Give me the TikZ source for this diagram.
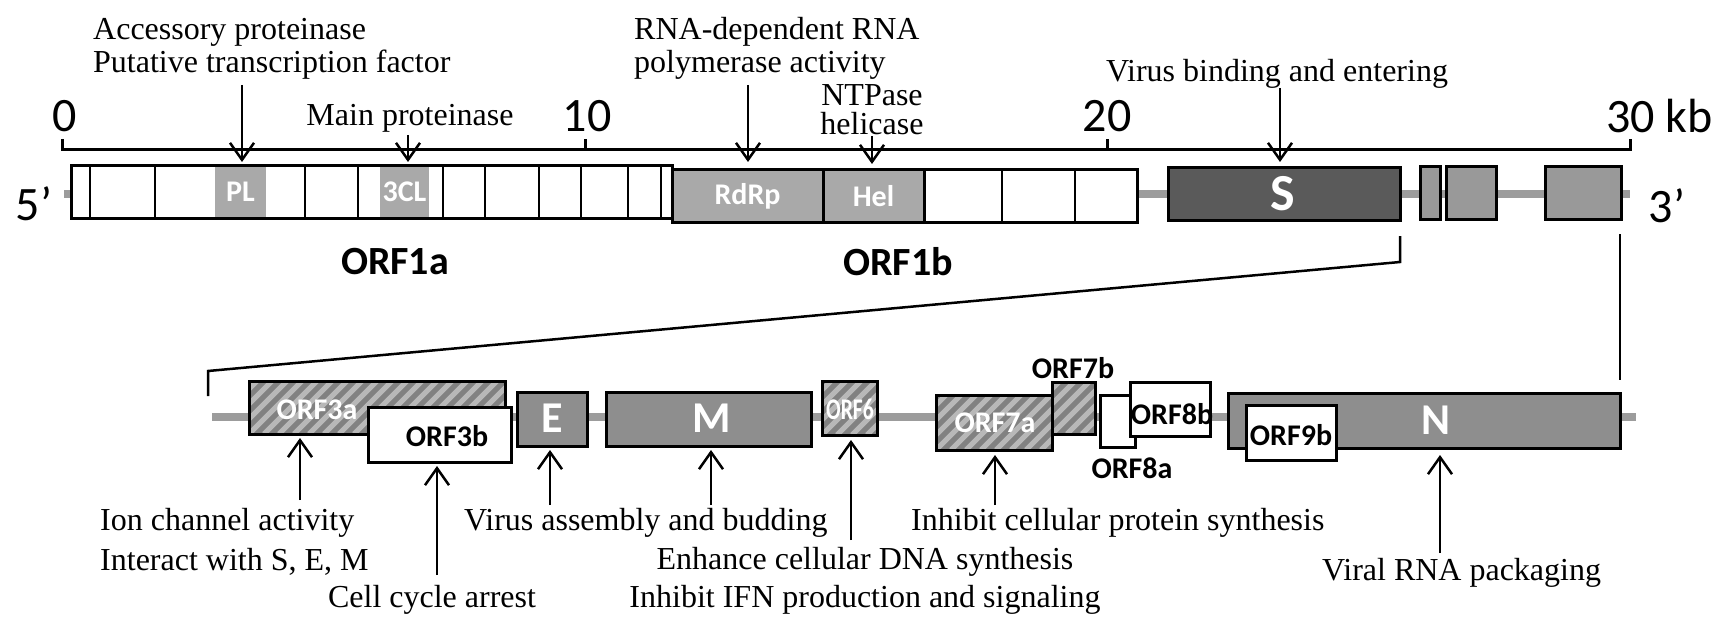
\documentclass[tikz,border=0pt]{standalone}
\usepackage{fontspec}
\setmainfont{Liberation Serif}
\newfontfamily\calfont{Carlito}
\usetikzlibrary{arrows.meta}
\definecolor{lineg}{HTML}{9C9C9C}
\definecolor{plgray}{HTML}{A9A9A9}
\definecolor{sgray}{HTML}{5A5A5A}
\definecolor{smgray}{HTML}{999999}
\definecolor{mgray}{HTML}{8E8E8E}
\definecolor{hgray}{HTML}{818181}
\definecolor{hstripe}{HTML}{B8B8B8}
\newcommand\mybox[6][]{\node[bx,#1,minimum width={#5-#3},minimum height={#6-#4}] (#2) at (#3,#4) {};}
\begin{document}
\begin{tikzpicture}[x=1pt,y=-1pt,
  bx/.style={draw=black,line width=3pt,inner sep=0pt,outer sep=0pt,anchor=north west},
  plain/.style={inner sep=0pt,outer sep=0pt,anchor=north west},
  tx/.style={font=\fontsize{32}{36}\selectfont,inner sep=0pt},
  cal/.style={font=\calfont\fontsize{#1}{#1}\selectfont,inner sep=0pt},
  calb/.style={font=\calfont\bfseries\fontsize{#1}{#1}\selectfont,inner sep=0pt},
  wlab/.style={calb=#1,text=white},
  arr/.style={line width=2.5pt,-{Straight Barb[length=17pt,width=24pt]}},
  axisl/.style={line width=3pt},
  bline/.style={line width=2.5pt},
  genome/.style={draw=lineg,line width=8pt},
  hatch/.style={fill=hgray,path picture={\foreach \k in {-4,...,22}{\draw[line width=5pt,draw=hstripe] ([xshift={\k*15pt}]path picture bounding box.south west) -- ++(80,-80);}}}
]
\useasboundingbox (0,0) rectangle (1734,631);

% ---------- top scale ----------
\coordinate (t0a) at (62,139); \coordinate (t0) at (62,150);
\coordinate (t30) at (1630,150); \coordinate (t30a) at (1630,139);
\coordinate (t10) at (585,150); \coordinate (t10a) at (585,139);
\coordinate (t20) at (1107,150); \coordinate (t20a) at (1107,139);
\draw[axisl] (t0a) -- (t0) -- (t30) -- (t30a);
\draw[axisl] (t10) -- (t10a);
\draw[axisl] (t20) -- (t20a);
\node[cal=48] (n0) at (65,116) {0};
\node[cal=48] (n10) at (587,116) {10};
\node[cal=48] (n20) at (1107,116) {20};
\node[cal=48,anchor=west] (n30) at (1606,116) {30 kb};

% ---------- genome line (top) ----------
\coordinate (g1) at (64,194); \coordinate (g2) at (1630,194);
\draw[genome] (g1) -- (g2);
\node[cal=48] (five) at (34,204) {5’};
\node[cal=48] (three) at (1667,206) {3’};

% ---------- ORF1a ----------
\mybox[fill=white]{orf1a}{71}{166}{672}{218}
\node[plain,fill=plgray,minimum width=51,minimum height=49] (pl) at (215,167.5) {};
\node[plain,fill=plgray,minimum width=49,minimum height=49] (cl) at (380,167.5) {};
\node[wlab=30] at (pl.center) {PL};
\node[wlab=30] at (cl.center) {3CL};
\foreach \xx in {90,155,305,358,443,485,539,581,628,661}
  \draw[bline] (\xx,166) -- (\xx,218);
\draw[line width=3pt] (orf1a.north west) rectangle (orf1a.south east);

% ---------- ORF1b ----------
\mybox[fill=white]{orf1b}{672}{170}{1137}{222}
\mybox[fill=plgray]{rdrp}{672}{170}{823}{222}
\mybox[fill=plgray]{hel}{823}{170}{924}{222}
\foreach \xx in {1002,1075}
  \draw[bline] (\xx,170) -- (\xx,222);
\node[wlab=30] at (rdrp.center) {RdRp};
\node[wlab=30] at (hel.center) {Hel};

% ---------- structural genes (top) ----------
\mybox[fill=sgray]{sbox}{1168}{168}{1400}{220}
\node[wlab=52] at (1283,194) {S};
\mybox[fill=smgray]{s1}{1420}{167}{1440}{219}
\mybox[fill=smgray]{s2}{1446}{167}{1496}{219}
\mybox[fill=smgray]{s3}{1545}{167}{1621}{219}

\node[calb=40] (orf1alab) at (395,262) {ORF1a};
\node[calb=40] (orf1blab) at (898,262) {ORF1b};

% ---------- top annotations ----------
\node[tx,anchor=west] (acc) at (93,32) {Accessory proteinase};
\node[tx,anchor=west] (put) at (93,65) {Putative transcription factor};
\node[tx,anchor=west] (rna1) at (634,32) {RNA-dependent RNA};
\node[tx,anchor=west] (rna2) at (634,65) {polymerase activity};
\node[tx] (ntp1) at (872,95) {NTPase};
\node[tx] (ntp2) at (872,124) {helicase};
\node[tx] (mainp) at (410,118) {Main proteinase};
\node[tx] (vbind) at (1277,74) {Virus binding and entering};

\coordinate (aPL) at (242,85);  \coordinate (aPLt) at (242,162);
\coordinate (a3C) at (408,135); \coordinate (a3Ct) at (408,162);
\coordinate (aRd) at (748,85);  \coordinate (aRdt) at (748,162);
\coordinate (aHe) at (872,136); \coordinate (aHet) at (872,164);
\coordinate (aS) at (1280,88);  \coordinate (aSt) at (1280,162);
\draw[arr] (aPL) -- (aPLt);
\draw[arr] (a3C) -- (a3Ct);
\draw[arr] (aRd) -- (aRdt);
\draw[arr] (aHe) -- (aHet);
\draw[arr] (aS) -- (aSt);

% ---------- zoom brackets ----------
\coordinate (bl1) at (208,396); \coordinate (bl2) at (208,371);
\coordinate (bl3) at (1400,262); \coordinate (bl4) at (1400,236);
\draw[bline] (bl1) -- (bl2) -- (bl3) -- (bl4);
\coordinate (br1) at (1620,234); \coordinate (br2) at (1620,380);
\draw[bline] (br1) -- (br2);

% ---------- bottom genome line ----------
\coordinate (h1) at (212,417); \coordinate (h2) at (1636,417);
\draw[genome] (h1) -- (h2);

% ---------- bottom ORFs ----------
\mybox[hatch]{orf3a}{249}{381}{505}{434}
\node[wlab=30] at (317,410) {ORF3a};
\mybox[fill=white]{orf3b}{368}{407}{511}{462}
\node[calb=30] at (447,436) {ORF3b};
\mybox[fill=mgray]{ebox}{517}{392}{587}{446}
\node[wlab=44] at (552,418) {E};
\mybox[fill=mgray]{mbox}{606}{392}{811}{446}
\node[wlab=44] at (712,418) {M};
\mybox[hatch]{orf6}{822}{381}{877}{435}
\node[wlab=30] at (850,409) {\scalebox{0.72}[1]{ORF6}};
\mybox[hatch]{orf7a}{936}{395}{1052}{450}
\node[wlab=30] at (995,423) {ORF7a};
\mybox[hatch]{orf7b}{1052}{382}{1095}{434}
\node[calb=30] at (1073,368) {ORF7b};
\mybox[fill=white]{orf8a}{1100}{395}{1135}{447}
\node[calb=30] at (1132,468) {ORF8a};
\mybox[fill=white]{orf8b}{1130}{382}{1210}{436}
\node[calb=30] at (1172,414) {ORF8b};
\mybox[fill=mgray]{nbox}{1228}{393}{1620}{448}
\node[wlab=44] at (1436,420) {N};
\mybox[fill=white]{orf9b}{1246}{405}{1336}{460}
\node[calb=30] at (1291,435) {ORF9b};

% ---------- bottom annotations ----------
\node[tx,anchor=west] (ion) at (100,523) {Ion channel activity};
\node[tx,anchor=west] (inter) at (100,562) {Interact with S, E, M};
\node[tx] (cell) at (432,600) {Cell cycle arrest};
\node[tx,anchor=west] (vass) at (464,523) {Virus assembly and budding};
\node[tx] (enh) at (865,562) {Enhance cellular DNA synthesis};
\node[tx] (ifn) at (865,600) {Inhibit IFN production and signaling};
\node[tx,anchor=west] (inh) at (911,523) {Inhibit cellular protein synthesis};
\node[tx,anchor=west] (vrna) at (1322,573) {Viral RNA packaging};

\coordinate (b3a) at (300,500); \coordinate (b3at) at (300,438);
\coordinate (b3b) at (437,575); \coordinate (b3bt) at (437,466);
\coordinate (bE) at (550,505);  \coordinate (bEt) at (550,450);
\coordinate (bM) at (711,505);  \coordinate (bMt) at (711,450);
\coordinate (b6) at (851,540);  \coordinate (b6t) at (851,440);
\coordinate (b7) at (995,505);  \coordinate (b7t) at (995,455);
\coordinate (bN) at (1440,553); \coordinate (bNt) at (1440,455);
\draw[arr] (b3a) -- (b3at);
\draw[arr] (b3b) -- (b3bt);
\draw[arr] (bE) -- (bEt);
\draw[arr] (bM) -- (bMt);
\draw[arr] (b6) -- (b6t);
\draw[arr] (b7) -- (b7t);
\draw[arr] (bN) -- (bNt);
\end{tikzpicture}
\end{document}
